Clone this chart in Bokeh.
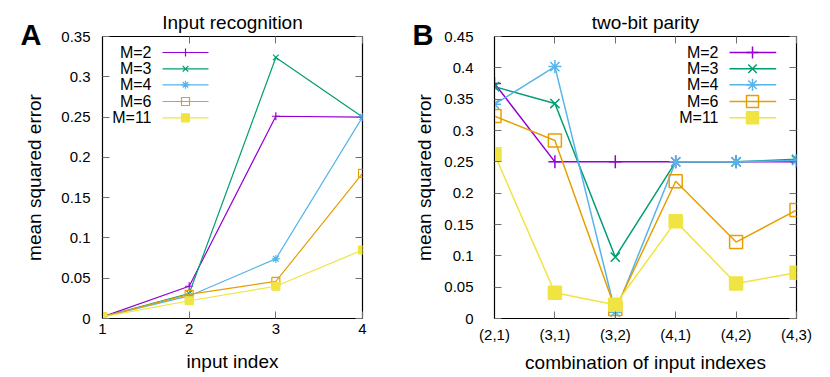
import numpy as np
from bokeh.plotting import figure
from bokeh.layouts import row
from bokeh.models import (LinearAxis, FixedTicker, CustomJSTickFormatter, Label, Range1d, Title)
from bokeh.embed import file_html
from bokeh.resources import INLINE

# ---------------- data ----------------
series = ["M=2", "M=3", "M=4", "M=6", "M=11"]
colors = ["#9400d3", "#009e73", "#56b4e9", "#e69f00", "#f0e442"]
markers = ["cross", "x", "asterisk", "square", "square"]
filled = [True, True, True, False, True]

# Panel A: input recognition
a_x = [1, 2, 3, 4]
a_m2 = [0.002, 0.040, 0.251, 0.250]
a_m3 = [0.002, 0.031, 0.324, 0.250]
a_m4 = [0.002, 0.028, 0.074, 0.250]
a_m6 = [0.002, 0.030, 0.046, 0.180]
a_m11 = [0.002, 0.022, 0.040, 0.085]
a_vals = [a_m2, a_m3, a_m4, a_m6, a_m11]

# Panel B: two-bit parity
b_labels = ["(2,1)", "(3,1)", "(3,2)", "(4,1)", "(4,2)", "(4,3)"]
b_m2 = [0.375, 0.250, 0.250, 0.250, 0.250, 0.250]
b_m3 = [0.370, 0.343, 0.098, 0.250, 0.250, 0.254]
b_m4 = [0.342, 0.402, 0.010, 0.250, 0.250, 0.252]
b_m6 = [0.323, 0.284, 0.015, 0.219, 0.122, 0.173]
b_m11 = [0.262, 0.041, 0.022, 0.155, 0.056, 0.073]
b_vals = [b_m2, b_m3, b_m4, b_m6, b_m11]

a_yticks = [0, 0.05, 0.1, 0.15, 0.2, 0.25, 0.3, 0.35]
b_yticks = [0, 0.05, 0.1, 0.15, 0.2, 0.25, 0.3, 0.35, 0.4, 0.45]

FONT = "Liberation Sans"
TICK_COL = "#707070"

fmt = CustomJSTickFormatter(code="return (Math.round(tick*1000)/1000).toString();")


def make_panel(x0, x1, y0, y1, fw, fh, bl, br, xticks, yticks, xlabel, ylabel,
               ylab_standoff, ytick_standoff, xtick_standoff, xlab_standoff, title, letter,
               xoverrides=None):
    p = figure(frame_width=fw, frame_height=fh, x_range=Range1d(x0, x1),
               y_range=Range1d(y0, y1), output_backend="svg", toolbar_location=None,
               min_border_left=bl, min_border_right=br, min_border_top=36,
               min_border_bottom=30, background_fill_color="white",
               border_fill_color="white")
    p.title = Title(text=title, align="center", text_font=FONT, text_font_size="19px",
                    text_font_style="normal", text_color="black", standoff=-4)
    p.xgrid.visible = False
    p.ygrid.visible = False
    p.outline_line_color = "black"
    p.outline_line_width = 1.2
    p.outline_line_alpha = 1.0
    for ax, ticks in ((p.xaxis[0], xticks), (p.yaxis[0], yticks)):
        ax.ticker = FixedTicker(ticks=ticks)
        ax.major_tick_in = 7
        ax.major_tick_out = 0
        ax.minor_tick_line_color = None
        ax.major_tick_line_color = TICK_COL
        ax.axis_line_color = "black"
        ax.major_label_text_font = FONT
        ax.major_label_text_font_size = "15px"
        ax.major_label_text_color = "black"
        ax.axis_label_text_font = FONT
        ax.axis_label_text_font_size = "19px"
        ax.axis_label_text_font_style = "normal"
        ax.axis_label_text_color = "black"
    p.xaxis[0].axis_label = xlabel
    p.yaxis[0].axis_label = ylabel
    p.yaxis[0].formatter = fmt
    p.yaxis[0].major_label_standoff = ytick_standoff
    p.yaxis[0].axis_label_standoff = ylab_standoff
    p.xaxis[0].major_label_standoff = xtick_standoff
    p.xaxis[0].axis_label_standoff = xlab_standoff
    if xoverrides:
        p.xaxis[0].major_label_overrides = xoverrides
    # mirrored ticks
    for side, ticks in (("above", xticks), ("right", yticks)):
        m = LinearAxis(ticker=FixedTicker(ticks=ticks), major_label_text_font_size="0px",
                       major_tick_in=7, major_tick_out=0, major_label_standoff=0,
                       axis_line_color=None, minor_tick_line_color=None,
                       major_tick_line_color=TICK_COL)
        p.add_layout(m, side)
    # panel letter, placed to the upper left of the frame
    t = Title(text=letter, align="left", offset=-82, vertical_align="bottom", standoff=-28,
              text_font=FONT, text_font_size="29px", text_font_style="bold",
              text_color="black")
    p.add_layout(t, "above")
    return p


def fx(x0, x1, fw, px):
    return x0 + (x1 - x0) * px / fw


def fy(y0, y1, fh, px):
    return y1 - (y1 - y0) * px / fh


def draw(p, xs, vals, msize, lw):
    for name, c, mk, fl, ys in zip(series, colors, markers, filled, vals):
        p.line(xs, ys, line_color=c, line_width=lw)
        p.scatter(xs, ys, marker=mk, size=msize, line_color=c, line_width=lw,
                  fill_color=c if fl else None)


def legend(p, x0, x1, y0, y1, fw, fh, text_r, l0, l1, mx, rows, msize, lw):
    for name, c, mk, fl, r in zip(series, colors, markers, filled, rows):
        yy = fy(y0, y1, fh, r)
        p.add_layout(Label(x=fx(x0, x1, fw, text_r), y=yy, text=name, text_align="right",
                           text_baseline="middle", text_font=FONT, text_font_size="16px",
                           text_color="black"))
        p.line([fx(x0, x1, fw, l0), fx(x0, x1, fw, l1)], [yy, yy], line_color=c, line_width=lw)
        p.scatter([fx(x0, x1, fw, mx)], [yy], marker=mk, size=msize, line_color=c,
                  line_width=lw, fill_color=c if fl else None)


rows_px = [16, 32.3, 48.3, 65, 81.3]

# Panel A
AW, AH = 260, 282
pa = make_panel(1, 4, 0, 0.35, AW, AH, 102, 46, a_x, a_yticks, "input index",
                "mean squared error", 13, 12, 5, 14, "Input recognition", "A")
draw(pa, a_x, a_vals, 8, 1.2)
legend(pa, 1, 4, 0, 0.35, AW, AH, 49, 60, 106, 83, rows_px, 8, 1.2)

# Panel B
BW, BH = 302, 282
b_x = list(range(len(b_labels)))
pb = make_panel(0, 5, 0, 0.45, BW, BH, 86, 26, b_x, b_yticks,
                "combination of input indexes", "mean squared error", 6, 21, 7, 6,
                "two-bit parity", "B",
                xoverrides={i: s for i, s in enumerate(b_labels)})
draw(pb, b_x, b_vals, 13, 1.5)
legend(pb, 0, 5, 0, 0.45, BW, BH, 224, 235, 281.7, 258, rows_px, 12, 1.5)

layout = row(pa, pb)
open("out.html", "w").write(file_html(layout, INLINE))
